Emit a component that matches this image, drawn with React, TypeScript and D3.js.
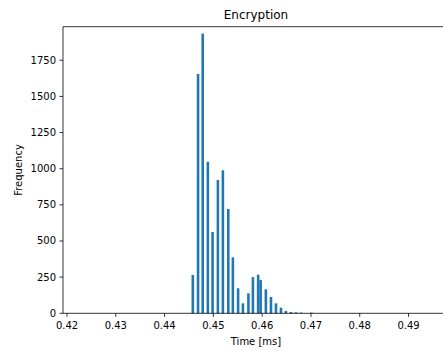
import React from 'react';
import * as d3 from 'd3';

// histogram bins (centre of each bin, in ms) and their counts
const binCenters = [
  0.44579, 0.44686, 0.44782, 0.44887, 0.44984, 0.45093, 0.45195, 0.45306,
  0.454, 0.45507, 0.45606, 0.45719, 0.45811, 0.45918, 0.45969, 0.46076,
  0.46181, 0.46283, 0.46386, 0.46487, 0.46591, 0.46694, 0.46797, 0.4701,
];
const binCounts = [
  265, 1655, 1934, 1048, 562, 922, 989, 721,
  387, 173, 69, 138, 250, 267, 230, 166,
  113, 69, 39, 16, 9, 7, 5, 5,
];
const binWidth = 0.00053;

const xTicks = [0.42, 0.43, 0.44, 0.45, 0.46, 0.47, 0.48, 0.49];
const yTicks = [0, 250, 500, 750, 1000, 1250, 1500, 1750];

const W = 443;
const H = 351;
const font = 'DejaVu Sans, sans-serif';

export default function App() {
  const left = 63;
  const right = 449; // axes run slightly past the picture edge
  const top = 26.7;
  const bottom = 313.3;

  const x = d3.scaleLinear().domain([0.41918, 0.4983]).range([left, right]);
  const y = d3.scaleLinear().domain([0, 1982]).range([bottom, top]);

  return (
    <svg
      width={W}
      height={H}
      style={{ position: 'absolute', left: 0, top: 0, background: '#fff' }}
      fontFamily={font}
    >
      <rect x={0} y={0} width={W} height={H} fill="#fff" />

      {/* bars */}
      {binCenters.map((c, i) => (
        <rect
          key={i}
          x={x(c - binWidth / 2)}
          y={y(binCounts[i])}
          width={x(c + binWidth / 2) - x(c - binWidth / 2)}
          height={y(0) - y(binCounts[i])}
          fill="#1f77b4"
        />
      ))}

      {/* spines */}
      <line x1={left} x2={left} y1={top} y2={bottom} stroke="#000" strokeWidth={0.8} />
      <line x1={left} x2={right} y1={bottom} y2={bottom} stroke="#000" strokeWidth={0.8} />
      <line x1={left} x2={right} y1={top} y2={top} stroke="#000" strokeWidth={0.8} />

      {/* x axis */}
      {xTicks.map((t) => (
        <g key={t} transform={`translate(${x(t)},${bottom})`}>
          <line y1={0} y2={3.5} stroke="#000" strokeWidth={0.8} />
          <text y={15.6} textAnchor="middle" fontSize={10} fill="#000">
            {t.toFixed(2)}
          </text>
        </g>
      ))}
      <text x={(left + right) / 2} y={345} textAnchor="middle" fontSize={10} fill="#000">
        Time [ms]
      </text>

      {/* y axis */}
      {yTicks.map((t) => (
        <g key={t} transform={`translate(${left},${y(t)})`}>
          <line x1={0} x2={-3.5} stroke="#000" strokeWidth={0.8} />
          <text x={-7} dy="0.35em" textAnchor="end" fontSize={10} fill="#000">
            {t}
          </text>
        </g>
      ))}
      <text
        transform={`translate(21.5,${(top + bottom) / 2}) rotate(-90)`}
        textAnchor="middle"
        fontSize={10}
        fill="#000"
      >
        Frequency
      </text>

      {/* title */}
      <text x={(left + right) / 2} y={18.5} textAnchor="middle" fontSize={12} fill="#000">
        Encryption
      </text>
    </svg>
  );
}
